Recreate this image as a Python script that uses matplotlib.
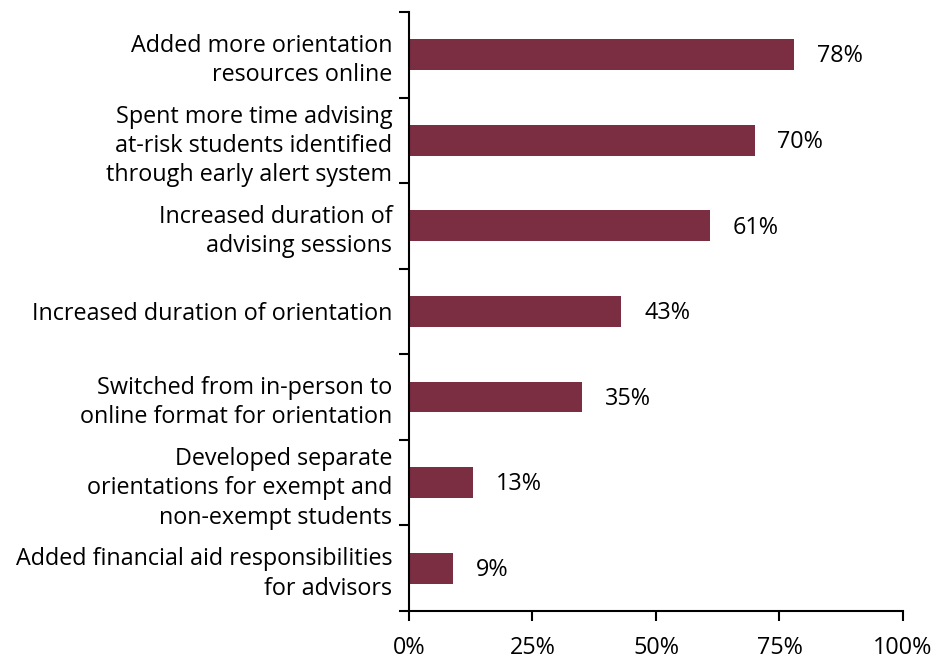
import matplotlib
matplotlib.use("Agg")
import matplotlib.pyplot as plt
import numpy as np

categories = [
    "Added more orientation\nresources online",
    "Spent more time advising\nat-risk students identified\nthrough early alert system",
    "Increased duration of\nadvising sessions",
    "Increased duration of orientation",
    "Switched from in-person to\nonline format for orientation",
    "Developed separate\norientations for exempt and\nnon-exempt students",
    "Added financial aid responsibilities\nfor advisors",
]
values = [78, 70, 61, 43, 35, 13, 9]
xticks = [0, 25, 50, 75, 100]
xticklabels = ["0%", "25%", "50%", "75%", "100%"]

plt.rcParams["font.family"] = ["Open Sans", "DejaVu Sans"]

fig = plt.figure(figsize=(9.51, 6.63), dpi=100)
ax = fig.add_axes([0.430, 0.0784, 0.5195, 0.9036])

FS = 16.8
y = np.arange(len(categories))
ax.barh(y, values, height=0.36, color="#7B2D42")
for yi, v in zip(y, values):
    ax.text(v + 4.6, yi + 0.02, f"{v}%", va="center", ha="left", fontsize=FS, color="#000000")

ax.set_xlim(0, 100)
ax.set_ylim(len(categories) - 0.5, -0.5)
ax.set_xticks(xticks)
ax.set_xticklabels(xticklabels, fontsize=FS)
ax.set_yticks(y)
ax.set_yticklabels(categories, fontsize=FS, linespacing=1.3)
ax.set_yticks(np.arange(-0.5, len(categories) + 0.5, 1), minor=True)

ax.tick_params(axis="y", which="major", length=0, pad=12)
ax.tick_params(axis="y", which="minor", length=7, width=1.5, direction="out")
ax.tick_params(axis="x", which="major", length=7, width=1.5, direction="out", pad=11)

for s in ["top", "right"]:
    ax.spines[s].set_visible(False)
for s in ["left", "bottom"]:
    ax.spines[s].set_linewidth(1.5)

fig.savefig("out.png", dpi=100)
